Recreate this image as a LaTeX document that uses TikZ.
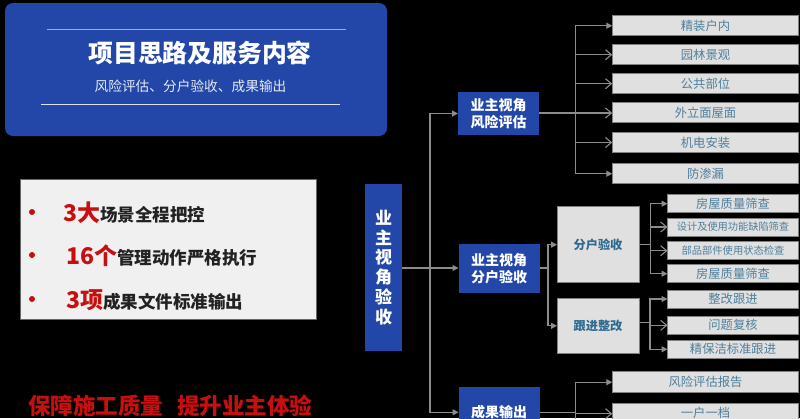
\documentclass[tikz,border=0pt]{standalone}
\usepackage{fontspec}
\setmainfont{Noto Sans CJK SC}
\usetikzlibrary{arrows.meta}
\definecolor{blueA}{HTML}{2347A8}
\definecolor{redA}{HTML}{C80F0F}
\definecolor{inkA}{HTML}{222222}
\definecolor{linkA}{HTML}{8C8C8C}
\definecolor{tealA}{HTML}{4F7F9C}
\definecolor{tealB}{HTML}{2F6A8F}
\newcommand{\fs}[1]{\fontsize{#1}{#1}\selectfont}
\tikzset{
  x=1pt,y=-1pt,
  txt/.style={inner sep=0pt,outer sep=0pt,align=center},
  bluebox/.style={txt,fill=blueA,text=white,font=\fontsize{14}{17}\selectfont\bfseries},
  greybox/.style={txt,fill=black!12,draw=black!50,line width=1pt,text=tealA,minimum height=20.5pt,font=\fs{12.3}},
  midbox/.style={greybox,text=tealB,font=\fs{12.2}\bfseries},
  leaf/.style={greybox,minimum width=131pt,minimum height=18pt},
  wide/.style={greybox,minimum width=186.4pt},
  linkline/.style={draw=linkA,line width=1.1pt},
  solidhead/.style={linkline,-{Triangle[length=6pt,width=6pt]}},
  openhead/.style={linkline,-{Straight Barb[length=6pt,width=10pt]}},
  dotmark/.style={circle,fill=redA,inner sep=0pt,minimum size=6pt},
  statline/.style={txt,anchor=west,text=inkA,font=\fs{17.5}\bfseries}
}
\newcommand{\redpart}[1]{{\color{redA}\fs{23}#1}}
\begin{document}
\begin{tikzpicture}
\fill[black] (0,0) rectangle (800,418);
\path[clip] (0,0) rectangle (800,418);
% header
\fill[blueA,rounded corners=8pt] (5,3) rectangle (387,136);
\draw[color=blueA!45!white,line width=1pt] (47,29.5) -- (346,29.5);
\draw[color=blueA!15!white,line width=1pt] (41,104) -- (340,104);
\node[txt,text=white,font=\fs{24.8}\bfseries] (title) at (200,53) {项目思路及服务内容};
\node[txt,text=white!88!blueA,font=\fs{13.7}] (subtitle) at (190.5,86) {风险评估、分户验收、成果输出};
% stats panel
\fill[white!94!black,draw=black!60] (20,179) rectangle (316.5,319);
\node[dotmark] (d1) at (32,212) {};
\node[dotmark] (d2) at (32,255) {};
\node[dotmark] (d3) at (32,299) {};
\node[statline] (s1) at (63,213) {\redpart{3大}场景全程把控};
\node[statline] (s2) at (66,256) {\redpart{16个}管理动作严格执行};
\node[statline] (s3) at (66,300) {\redpart{3项}成果文件标准输出};
\node[txt,text=redA,font=\fs{22.5}\bfseries] (s4) at (95.5,406) {保障施工质量};
\node[txt,text=redA,font=\fs{22.5}\bfseries] (s5) at (244.5,406) {提升业主体验};
% blue boxes
\node[bluebox,minimum width=37pt,minimum height=167pt,font=\fontsize{17}{19.7}\selectfont\bfseries] (root) at (383.5,267.5) {业\\主\\视\\角\\验\\收};
\node[bluebox,minimum width=81pt,minimum height=43.5pt] (a) at (498.5,113.5) {业主视角\\风险评估};
\node[bluebox,minimum width=81pt,minimum height=49.5pt] (b) at (499,268.5) {业主视角\\分户验收};
\node[bluebox,minimum width=81pt,minimum height=50pt] (c) at (499,412.3) {\raisebox{1pt}{成果输出}};
% first column
\node[wide] (a1) at (705.5,25.7) {精装户内};
\node[wide] (a2) at (705.5,54.7) {园林景观};
\node[wide] (a3) at (705.5,83.7) {公共部位};
\node[wide] (a4) at (705.5,112.5) {外立面屋面};
\node[wide] (a5) at (705.5,142.5) {机电安装};
\node[wide] (a6) at (705.5,173.7) {防渗漏};
% middle
\node[midbox,minimum width=82pt,minimum height=76pt] (m1) at (598,244.7) {分户验收};
\node[midbox,minimum width=82pt,minimum height=55pt] (m2) at (598,325.8) {跟进整改};
\node[leaf] (l1) at (733,203.7) {房屋质量筛查};
\node[leaf,font=\fs{10.2}] (l2) at (733,227) {设计及使用功能缺陷筛查};
\node[leaf,font=\fs{10.3}] (l3) at (733,250.7) {部品部件使用状态检查};
\node[leaf] (l4) at (733,273.7) {\raisebox{1.5pt}{房屋质量筛查}};
\node[leaf] (l5) at (733,299) {\raisebox{1.8pt}{整改跟进}};
\node[leaf] (l6) at (733,325.3) {\raisebox{1.8pt}{问题复核}};
\node[leaf] (l7) at (733,349.3) {\raisebox{1.8pt}{精保洁标准跟进}};
% output
\node[wide] (c1) at (705.5,382.2) {风险评估报告};
\node[wide] (c2) at (705.5,413.7) {\raisebox{2.6pt}{一户一档}};
% junctions
\coordinate (j0) at (430,268);
\coordinate (ja) at (575.7,113);
\coordinate (jb) at (548,268);
\coordinate (jc) at (575.7,412.5);
\coordinate (jm1) at (650.3,244.5);
\coordinate (jm2) at (650,322.7);
\coordinate (jend) at (575.7,420);
% root links
\draw[linkline] (root.east |- j0) -- (j0);
\draw[solidhead] (j0) |- (a.west);
\draw[solidhead] (j0) -- (j0 -| b.west);
\draw[solidhead] (j0) |- (c.west);
% a links
\draw[linkline] (a.east |- ja) -- (ja);
\draw[solidhead] (ja) |- (a1.west);
\draw[openhead] (ja) |- (a2.west);
\draw[openhead] (ja) |- (a3.west);
\draw[openhead] (ja) -- (ja -| a4.west);
\draw[openhead] (ja) |- (a5.west);
\draw[solidhead] (ja) |- (a6.west);
% b links
\draw[linkline] (b.east |- jb) -- (jb);
\draw[solidhead] (jb) |- (m1.west);
\draw[solidhead] (jb) |- (m2.west);
% m1 links
\draw[linkline] (m1.east |- jm1) -- (jm1);
\draw[solidhead] (jm1) |- (l1.west);
\draw[openhead] (jm1) |- (l2.west);
\draw[openhead] (jm1) |- (l3.west);
\draw[solidhead] (jm1) |- (l4.west);
% m2 links
\draw[linkline] (m2.east |- jm2) -- (jm2);
\draw[solidhead] (jm2) |- (l5.west);
\draw[openhead] (jm2) |- (l6.west);
\draw[solidhead] (jm2) |- (l7.west);
% c links
\draw[linkline] (c.east |- jc) -- (jc);
\draw[solidhead] (jc) |- (c1.west);
\draw[openhead] (jc) |- (c2.west);
\draw[linkline] (jc) -- (jend);
\end{tikzpicture}
\end{document}
